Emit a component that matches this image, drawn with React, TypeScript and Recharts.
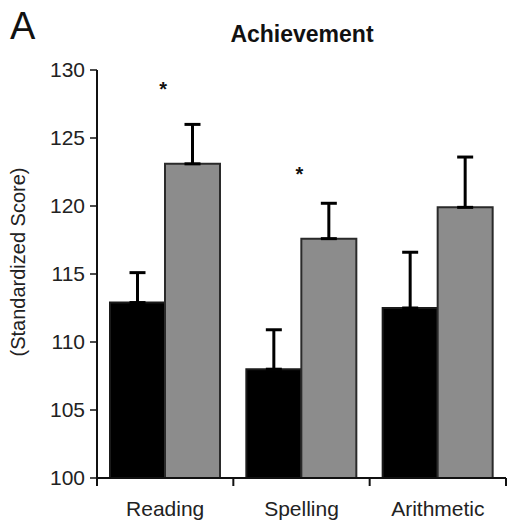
import {
  Bar,
  ComposedChart,
  ErrorBar,
  Label,
  Scatter,
  XAxis,
  YAxis,
} from "recharts";

const categories = ["Reading", "Spelling", "Arithmetic"];
const groupA = [112.9, 108.0, 112.5];
const groupAErr = [2.2, 2.9, 4.1];
const groupB = [123.1, 117.6, 119.9];
const groupBErr = [2.9, 2.6, 3.7];
const starAt = [128.8, 122.6, null];
const yTicks = [100, 105, 110, 115, 120, 125, 130];

const data = categories.map((name, i) => ({
  name,
  a: groupA[i],
  aErr: [0, groupAErr[i]],
  b: groupB[i],
  bErr: [0, groupBErr[i]],
  star: starAt[i],
}));

const font = "'Liberation Sans', Arial, Helvetica, sans-serif";

function XTick(props: any) {
  const { x, y, payload, index, visibleTicksCount } = props;
  const half = payload.offset ?? 68;
  const last = index === visibleTicksCount - 1;
  return (
    <g>
      <line x1={x - half} x2={x - half} y1={y} y2={y + 8} stroke="#111" strokeWidth={2} />
      {last && <line x1={x + half} x2={x + half} y1={y} y2={y + 8} stroke="#111" strokeWidth={2} />}
      <text x={x} y={y + 38} textAnchor="middle" fontSize={21} fill="#222" fontFamily={font}>
        {payload.value}
      </text>
    </g>
  );
}

function Star(props: any) {
  const { cx, cy } = props;
  if (cy == null || isNaN(cy)) return null;
  return (
    <text x={cx - 2} y={cy + 10} textAnchor="middle" fontSize={20} fontWeight="bold" fill="#111" fontFamily={font}>
      *
    </text>
  );
}

export default function App() {
  return (
    <div style={{ position: "absolute", left: 0, top: 0, width: 507, height: 525, background: "#fff", fontFamily: font }}>
      <div style={{ position: "absolute", left: 10, top: 5, fontSize: 38, color: "#111", lineHeight: "42px" }}>A</div>
      <div
        style={{
          position: "absolute",
          left: 97,
          width: 410,
          top: 22,
          textAlign: "center",
          fontSize: 23,
          lineHeight: "24px",
          fontWeight: "bold",
          color: "#111",
        }}
      >
        Achievement
      </div>
      <ComposedChart
        width={507}
        height={525}
        data={data}
        margin={{ top: 70, right: 1, bottom: 0, left: 0 }}
        barGap={0}
      >
        <XAxis
          dataKey="name"
          height={47}
          tickSize={0}
          tickMargin={0}
          axisLine={{ stroke: "#111", strokeWidth: 2 }}
          tickLine={false}
          tick={<XTick />}
          interval={0}
        />
        <YAxis
          width={97}
          domain={[100, 130]}
          ticks={yTicks}
          tickSize={7}
          tickMargin={5}
          axisLine={{ stroke: "#111", strokeWidth: 2 }}
          tickLine={{ stroke: "#111", strokeWidth: 1.5 }}
          tick={{ fontSize: 21, fill: "#222", fontFamily: font }}
        >
          <Label
            content={() => (
              <text
                x={25}
                y={262}
                transform="rotate(-90 25 262)"
                textAnchor="middle"
                fontSize={20}
                fill="#222"
                fontFamily={font}
              >
                (Standardized Score)
              </text>
            )}
          />
        </YAxis>
        <Bar dataKey="a" fill="#000" stroke="#1a1a1a" strokeWidth={2} barSize={55} isAnimationActive={false}>
          <ErrorBar dataKey="aErr" direction="y" width={8} stroke="#000" strokeWidth={3} />
        </Bar>
        <Bar dataKey="b" fill="#8c8c8c" stroke="#2a2a2a" strokeWidth={2} barSize={55} isAnimationActive={false}>
          <ErrorBar dataKey="bErr" direction="y" width={8} stroke="#000" strokeWidth={3} />
        </Bar>
        <Scatter dataKey="star" shape={<Star />} isAnimationActive={false} />
      </ComposedChart>
    </div>
  );
}
